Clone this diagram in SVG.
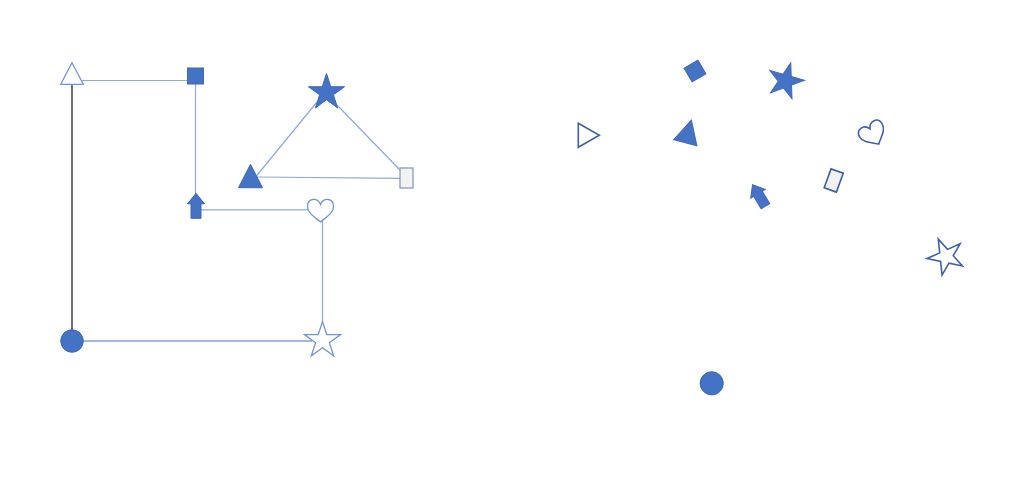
<svg xmlns="http://www.w3.org/2000/svg" xmlns:xlink="http://www.w3.org/1999/xlink" width="1024" height="495" viewBox="0 0 1024 495">
<style>
.fill{fill:#4472C4;stroke:#3F68B5;stroke-width:1}
.outL{fill:#FFFFFF;stroke:#7394D2;stroke-width:1.3}
.outR{fill:#FFFFFF;stroke:#3D62AA;stroke-width:1.6}
.grayL{fill:#F2F2F2;stroke:#8A9BBD;stroke-width:1.3}
.grayR{fill:#F2F2F2;stroke:#3D5FA0;stroke-width:1.6}
.con{fill:none;stroke:#8EA9DB;stroke-width:1.2}
.conD{fill:none;stroke:#4A72BE;stroke-width:1.2}
.conK{fill:none;stroke:#111111;stroke-width:1.2}
</style>
<defs>
<path id="star" d="M0,-19 L4.27,-5.87 L18.07,-5.87 L6.9,2.24 L11.17,15.37 L0,7.26 L-11.17,15.37 L-6.9,2.24 L-18.07,-5.87 L-4.27,-5.87 Z"/>
<path id="arrow" d="M0,-12.5 L8.5,-2 L5,-2 L5,12.5 L-5,12.5 L-5,-2 L-8.5,-2 Z"/>
<path id="heart" d="M0,-6 C-3,-13 -13,-13 -13,-4 C-13,3 -5,7 0,11.5 C5,7 13,3 13,-4 C13,-13 3,-13 0,-6 Z"/>
<path id="tri" d="M0,-15.7 L12,7.7 L-12,7.7 Z"/>
</defs>
<rect width="1024" height="495" fill="#FFFFFF"/>
<g id="connectors">
<line class="conK" x1="72" y1="84" x2="72" y2="330"/>
<line class="con" x1="81" y1="80.5" x2="188" y2="80.5"/>
<line class="con" x1="195.5" y1="84" x2="195.5" y2="194"/>
<line class="con" x1="201" y1="209.8" x2="308" y2="209.8"/>
<line class="con" x1="322.5" y1="221" x2="322.5" y2="322"/>
<line class="conD" x1="83.5" y1="341" x2="312" y2="341"/>
<line class="con" x1="317" y1="102" x2="256" y2="176.5"/>
<line class="con" x1="337" y1="105" x2="400" y2="170"/>
<line class="con" x1="257" y1="177" x2="400" y2="178.3"/>
</g>
<g id="left-triangle-outline"><polygon class="outL" points="72,62.7 83.3,84.3 60.7,84.3"/></g>
<g id="left-square"><rect class="fill" x="187.5" y="68" width="16" height="16"/></g>
<g id="left-arrow"><use xlink:href="#arrow" class="fill" transform="translate(196,205.8)"/></g>
<g id="left-heart"><use xlink:href="#heart" class="outL" transform="translate(320.5,210.5)"/></g>
<g id="left-star-outline"><use xlink:href="#star" class="outL" transform="translate(322.5,340.5)"/></g>
<g id="left-circle"><circle class="fill" cx="72" cy="341" r="11.3"/></g>
<g id="left-star-filled"><use xlink:href="#star" class="fill" transform="translate(326.5,92.6)"/></g>
<g id="left-triangle-filled"><use xlink:href="#tri" class="fill" transform="translate(250.5,180)"/></g>
<g id="left-rect"><rect class="grayL" x="400" y="168" width="13" height="20"/></g>
<g id="right-triangle-outline"><polygon class="outR" points="578.3,123.3 599.3,135.3 578.3,147.3"/></g>
<g id="right-square"><rect class="fill" x="-8" y="-8" width="16" height="16" transform="translate(695,71) rotate(-30)"/></g>
<g id="right-star-filled"><use xlink:href="#star" class="fill" transform="translate(785.5,81) rotate(16)"/></g>
<g id="right-triangle-filled"><use xlink:href="#tri" class="fill" transform="translate(687.3,135.3) rotate(15)"/></g>
<g id="right-heart"><use xlink:href="#heart" class="outR" transform="translate(873,134) rotate(-30)"/></g>
<g id="right-rect"><rect class="grayR" x="-6.5" y="-10" width="13" height="20" transform="translate(833.7,180.5) rotate(20)"/></g>
<g id="right-arrow"><use xlink:href="#arrow" class="fill" transform="translate(759,195.5) rotate(-31)"/></g>
<g id="right-star-outline"><use xlink:href="#star" class="outR" transform="translate(946,256.5) rotate(-24)"/></g>
<g id="right-circle"><circle class="fill" cx="711.7" cy="383.3" r="11.6"/></g>
</svg>
